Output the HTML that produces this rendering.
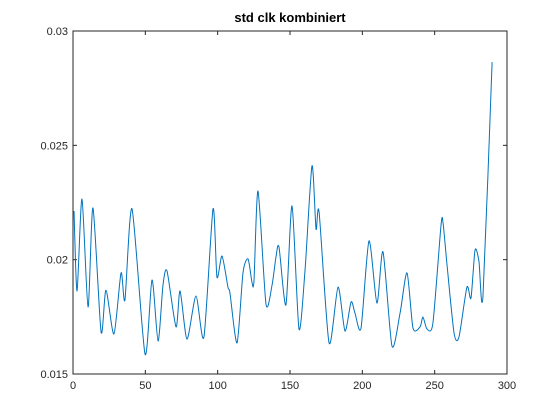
<!DOCTYPE html>
<html><head><meta charset="utf-8"><style>
html,body{margin:0;padding:0;background:#fff;width:560px;height:420px;overflow:hidden}
svg{display:block;font-family:"Liberation Sans",Arial,sans-serif}
</style></head><body>
<svg id="chart" width="560" height="420">
<rect width="560" height="420" fill="#fff"/>
<text x="290" y="22" text-anchor="middle" font-size="13" font-weight="bold" fill="#000">std clk kombiniert</text>
<g id="axes"></g>
<path id="line" fill="none" stroke="#0072BD" stroke-width="1"/>
</svg>
<script>
const xVals=[0.7,2.8,6.2,10.4,13.8,19.4,22.8,28.3,33.2,35.9,40.8,49.8,54.6,58.8,62.2,65.0,71.2,74.0,78.8,85.0,90.5,96.8,99.5,103.0,107.1,108.5,113.4,117.5,121.0,123.7,125.1,127.9,133.4,137.6,140.3,142.4,147.2,151.4,156.2,160.4,165.2,168.0,170.1,177.0,183.2,188.0,192.2,194.9,199.1,204.6,210.1,214.3,220.5,226.1,230.9,235.0,239.9,241.9,244.7,248.8,254.4,255.8,258.5,263.4,266.8,272.3,275.1,277.9,280.6,283.4,289.7];
const yVals=[0.02213,0.01863,0.02265,0.01793,0.02226,0.01684,0.01867,0.01675,0.01942,0.01824,0.02222,0.01587,0.01911,0.01644,0.01889,0.01950,0.01706,0.01863,0.01653,0.01841,0.01662,0.02222,0.01924,0.02016,0.01880,0.01854,0.01636,0.01942,0.02003,0.01902,0.01907,0.02300,0.01806,0.01889,0.02012,0.02055,0.01802,0.02235,0.01697,0.01955,0.02410,0.02134,0.02208,0.01636,0.01880,0.01688,0.01815,0.01767,0.01701,0.02082,0.01810,0.02034,0.01622,0.01767,0.01942,0.01701,0.01706,0.01749,0.01697,0.01723,0.02152,0.02160,0.01980,0.01679,0.01662,0.01880,0.01832,0.02042,0.01994,0.01841,0.02864];
const xTicks=[0,50,100,150,200,250,300];
const yTicks=[0.015,0.02,0.025,0.03];
const yTickLabels=["0.015","0.02","0.025","0.03"];

const L=73,R=507,T=31,B=374;
const xs=v=>L+(v-0)/(300-0)*(R-L);
const ys=v=>B-(v-0.015)/(0.03-0.015)*(B-T);
const NS="http://www.w3.org/2000/svg";
const ax=document.getElementById('axes');
function mk(tag,attrs,parent){const e=document.createElementNS(NS,tag);for(const k in attrs)e.setAttribute(k,attrs[k]);(parent||ax).appendChild(e);return e;}
const box=mk('rect',{x:L,y:T,width:R-L,height:B-T,fill:'none',stroke:'#262626','stroke-width':1});


xTicks.forEach(t=>{
  const x=xs(t);
  const a=mk('line',{x1:x,x2:x,y1:B,y2:B-4,stroke:'#262626'});
  
  
  const b=mk('line',{x1:x,x2:x,y1:T,y2:T+4,stroke:'#262626'});
  
  
  const tx=mk('text',{x:x,y:B+15,'text-anchor':'middle','font-size':11,fill:'#262626'});
  tx.textContent=String(t);
  
  
});
yTicks.forEach((t,i)=>{
  const y=ys(t);
  const a=mk('line',{x1:L,x2:L+4,y1:y,y2:y,stroke:'#262626'});
  
  
  const b=mk('line',{x1:R,x2:R-4,y1:y,y2:y,stroke:'#262626'});
  
  
  const tx=mk('text',{x:L-5,y:y+4,'text-anchor':'end','font-size':11,fill:'#262626'});
  tx.textContent=yTickLabels[i];
  
  
});
const P=xVals.map((v,i)=>[xs(v),ys(yVals[i])]);
let d='M'+P[0][0].toFixed(2)+','+P[0][1].toFixed(2);
for(let i=0;i<P.length-1;i++){
  const p0=P[Math.max(0,i-1)],p1=P[i],p2=P[i+1],p3=P[Math.min(P.length-1,i+2)];
  const c1=[p1[0]+(p2[0]-p0[0])/8,p1[1]+(p2[1]-p0[1])/8];
  const c2=[p2[0]-(p3[0]-p1[0])/8,p2[1]-(p3[1]-p1[1])/8];
  d+=' C'+c1.map(n=>n.toFixed(2)).join(',')+' '+c2.map(n=>n.toFixed(2)).join(',')+' '+p2.map(n=>n.toFixed(2)).join(',');
}
document.getElementById('line').setAttribute('d',d);
</script>
</body></html>
